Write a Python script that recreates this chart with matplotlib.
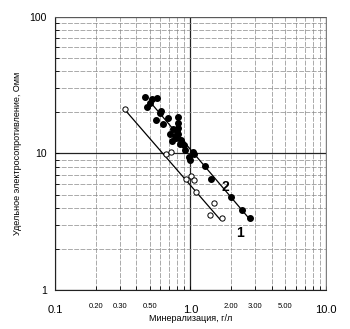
import matplotlib.pyplot as plt
from matplotlib.ticker import FixedLocator, NullFormatter, LogLocator

# Open circles (series 1): mineralization g/l, resistivity Ohm*m
min_1 = [0.327, 0.663, 0.72, 0.93, 1.01, 1.06, 1.10, 1.49, 1.39, 1.70]
res_1 = [21.1, 9.9, 10.2, 6.5, 6.8, 6.4, 5.2, 4.34, 3.55, 3.36]

# Filled circles (series 2)
min_2 = [0.464, 0.506, 0.52, 0.565, 0.48, 0.61, 0.556, 0.626, 0.689, 0.81,
         0.81, 0.81, 0.71, 0.75, 0.77, 0.816, 0.855, 0.73, 0.84, 0.89,
         0.92, 0.97, 1.0, 1.04, 1.06, 1.28, 1.42, 1.99, 2.41, 2.74,
         0.60, 0.78, 0.80, 0.87]
res_2 = [26.0, 23.6, 25.0, 25.4, 21.9, 20.5, 17.5, 16.5, 18.2, 18.5,
         16.8, 15.4, 14.0, 15.0, 13.4, 13.8, 12.6, 12.3, 11.7, 11.5,
         10.6, 9.5, 9.0, 10.3, 9.9, 8.1, 6.5, 4.8, 3.87, 3.36,
         19.9, 12.9, 14.5, 12.0]

# Regression lines (end points)
line_1_x = [0.327, 1.65]
line_1_y = [21.0, 3.3]
line_2_x = [0.52, 2.74]
line_2_y = [23.0, 3.3]

xtick_small = [0.2, 0.3, 0.5, 2.0, 3.0, 5.0]
xtick_small_labels = ['0.20', '0.30', '0.50', '2.00', '3.00', '5.00']
xtick_big = [0.1, 1.0, 10.0]
xtick_big_labels = ['0.1', '1.0', '10.0']

plt.rcParams['font.family'] = ['Liberation Sans', 'DejaVu Sans']

fig = plt.figure(figsize=(3.5, 3.29), dpi=100)
ax = fig.add_axes([0.157, 0.1185, 0.774, 0.83])
ax.set_xscale('log')
ax.set_yscale('log')
ax.set_xlim(0.1, 10)
ax.set_ylim(1, 100)

# log paper grid
ax.xaxis.set_minor_locator(LogLocator(base=10, subs=range(2, 10)))
ax.yaxis.set_minor_locator(LogLocator(base=10, subs=range(2, 10)))
ax.grid(True, which='minor', color='#888888', lw=0.5, ls=(0, (7, 2)))
ax.grid(True, which='major', color='#222222', lw=0.9)
ax.set_axisbelow(True)

ax.plot(line_1_x, line_1_y, color='black', lw=0.9)
ax.plot(line_2_x, line_2_y, color='black', lw=0.9)
ax.plot(min_1, res_1, 'o', ms=3.8, mfc='white', mec='black', mew=0.7)
ax.plot(min_2, res_2, 'o', ms=4.0, color='black')

ax.text(2.33, 2.6, '1', fontsize=10, ha='center', va='center', fontweight='bold')
ax.text(1.81, 5.7, '2', fontsize=10, ha='center', va='center', fontweight='bold')

# tick labels
ax.xaxis.set_major_locator(FixedLocator([0.1, 1, 10]))
ax.xaxis.set_major_formatter(NullFormatter())
ax.xaxis.set_minor_formatter(NullFormatter())
ax.yaxis.set_minor_formatter(NullFormatter())
ax.set_yticks([1, 10, 100])
ax.set_yticklabels(['1', '10', '100'], fontsize=7.5)
ax.tick_params(which='both', direction='in', length=3, width=0.6)
ax.tick_params(axis='y', pad=6)
for x, lab in zip(xtick_small, xtick_small_labels):
    ax.text(x, -0.06, lab, transform=ax.get_xaxis_transform(),
            ha='center', va='center', fontsize=5.5)
for x, lab in zip(xtick_big, xtick_big_labels):
    ax.text(x, -0.075, lab, transform=ax.get_xaxis_transform(),
            ha='center', va='center', fontsize=8)

ax.text(0.5, -0.105, 'Минерализация, г/л', transform=ax.transAxes,
        ha='center', va='center', fontsize=6.5)
ax.set_ylabel('Удельное электросопротивление, Омм', fontsize=6.5, labelpad=5)

for side, s in ax.spines.items():
    s.set_color('#222222' if side in ('left', 'bottom') else '#666666')
    s.set_linewidth(0.8 if side in ('left', 'bottom') else 0.6)

fig.savefig('out.png', dpi=100)
